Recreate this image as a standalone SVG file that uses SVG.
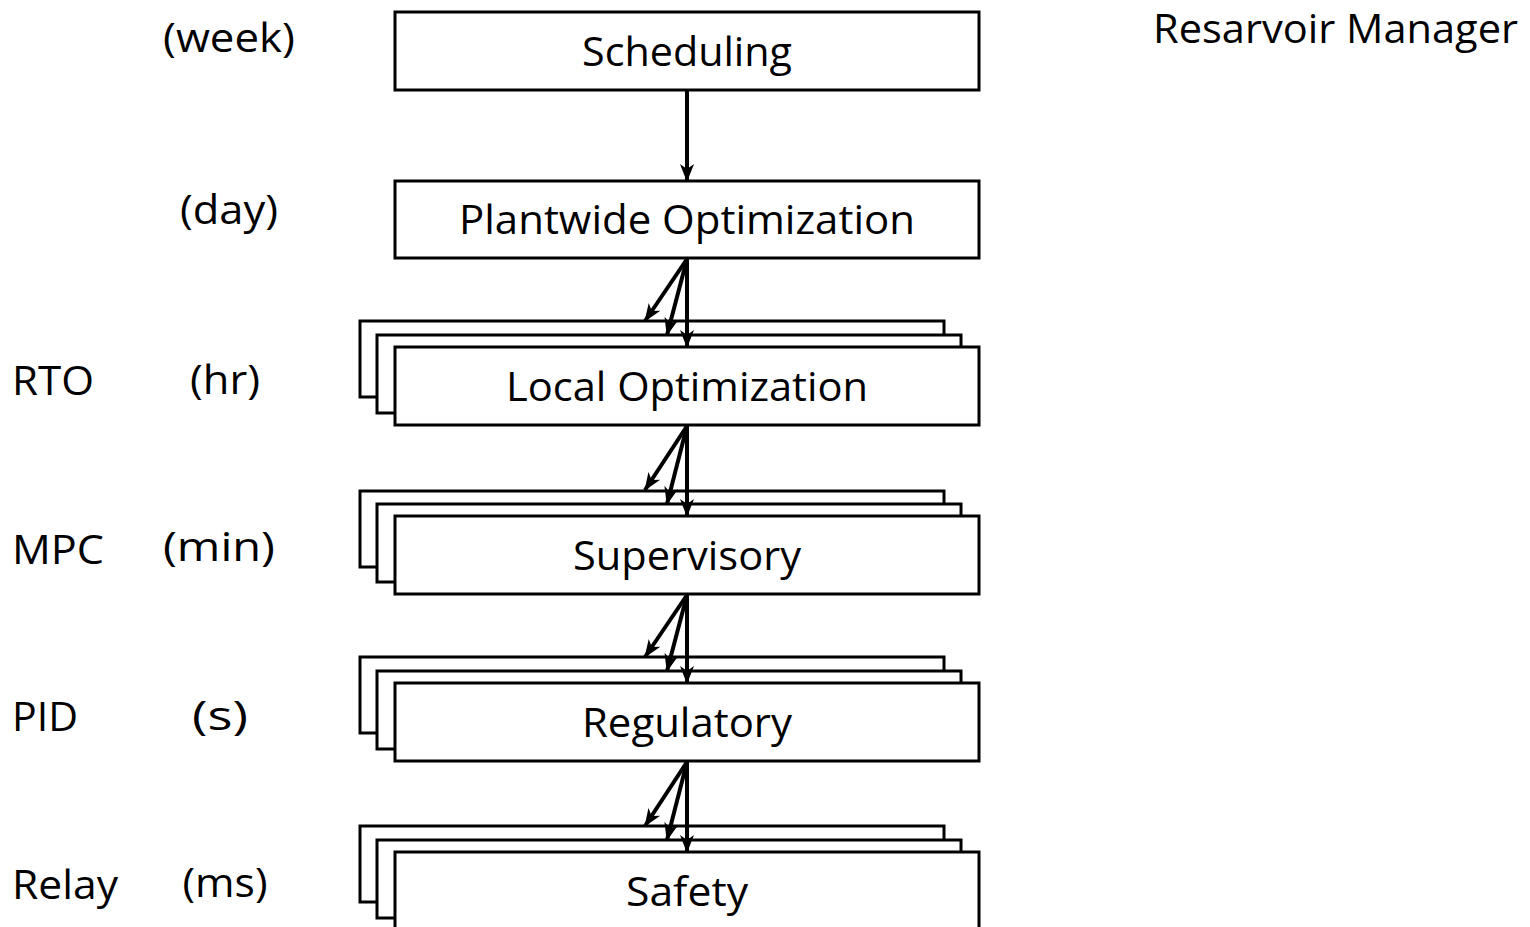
<svg xmlns="http://www.w3.org/2000/svg" width="1530" height="927" viewBox="0 0 1530 927">
  <defs>
    <marker id="head" markerUnits="userSpaceOnUse" markerWidth="18" markerHeight="16" viewBox="0 0 18 16" refX="17" refY="8" orient="auto">
      <path d="M0,1 L18,8 L0,15 L5,8 Z" fill="#000"/>
    </marker>
  </defs>
  <style>
    .box { fill: #fff; stroke: #000; stroke-width: 3; }
    .lbl { font-family: "Open Sans", "Liberation Sans", sans-serif; font-size: 41px; fill: #000; }
    .mid { text-anchor: middle; }
    .conn line { stroke: #000; stroke-width: 4; marker-end: url(#head); }
  </style>
  <rect width="1530" height="927" fill="#fff"/>

  <!-- side labels: controller type and time scale -->
  <g id="side-labels">
    <text class="lbl mid" x="229" y="52" textLength="132" lengthAdjust="spacingAndGlyphs">(week)</text>
    <text class="lbl mid" x="229" y="224" textLength="98" lengthAdjust="spacingAndGlyphs">(day)</text>
    <text class="lbl" x="12" y="395" textLength="82" lengthAdjust="spacingAndGlyphs">RTO</text>
    <text class="lbl mid" x="225" y="394" textLength="70" lengthAdjust="spacingAndGlyphs">(hr)</text>
    <text class="lbl" x="12" y="564" textLength="92" lengthAdjust="spacingAndGlyphs">MPC</text>
    <text class="lbl mid" x="219" y="561" textLength="112" lengthAdjust="spacingAndGlyphs">(min)</text>
    <text class="lbl" x="12" y="731" textLength="66" lengthAdjust="spacingAndGlyphs">PID</text>
    <text class="lbl mid" x="220" y="730" textLength="56" lengthAdjust="spacingAndGlyphs">(s)</text>
    <text class="lbl" x="12" y="899" textLength="106" lengthAdjust="spacingAndGlyphs">Relay</text>
    <text class="lbl mid" x="225" y="897" textLength="85" lengthAdjust="spacingAndGlyphs">(ms)</text>
    <text class="lbl" x="1153" y="43" textLength="365" lengthAdjust="spacingAndGlyphs">Resarvoir Manager</text>
  </g>

  <g id="scheduling">
    <rect class="box" x="395" y="12" width="584" height="78"/>
    <text class="lbl mid" x="687" y="66" textLength="210" lengthAdjust="spacingAndGlyphs">Scheduling</text>
  </g>

  <g id="plantwide">
    <rect class="box" x="395" y="181" width="584" height="77"/>
    <text class="lbl mid" x="687" y="234" textLength="456" lengthAdjust="spacingAndGlyphs">Plantwide Optimization</text>
  </g>

  <g id="local-optimization">
    <rect class="box" x="360" y="321" width="584" height="76"/>
    <rect class="box" x="377" y="335" width="584" height="78"/>
    <rect class="box" x="395" y="347" width="584" height="78"/>
    <text class="lbl mid" x="687" y="401" textLength="362" lengthAdjust="spacingAndGlyphs">Local Optimization</text>
  </g>

  <g id="supervisory">
    <rect class="box" x="360" y="491" width="584" height="76"/>
    <rect class="box" x="377" y="504" width="584" height="78"/>
    <rect class="box" x="395" y="516" width="584" height="78"/>
    <text class="lbl mid" x="687" y="570" textLength="228" lengthAdjust="spacingAndGlyphs">Supervisory</text>
  </g>

  <g id="regulatory">
    <rect class="box" x="360" y="657" width="584" height="76"/>
    <rect class="box" x="377" y="671" width="584" height="78"/>
    <rect class="box" x="395" y="683" width="584" height="78"/>
    <text class="lbl mid" x="687" y="737" textLength="210" lengthAdjust="spacingAndGlyphs">Regulatory</text>
  </g>

  <g id="safety">
    <rect class="box" x="360" y="826" width="584" height="76"/>
    <rect class="box" x="377" y="840" width="584" height="78"/>
    <rect class="box" x="395" y="852" width="584" height="78"/>
    <text class="lbl mid" x="687" y="906" textLength="122" lengthAdjust="spacingAndGlyphs">Safety</text>
  </g>

  <g id="connectors" class="conn">
    <line x1="687" y1="91" x2="687" y2="181"/>

    <line x1="687" y1="259" x2="645" y2="321"/>
    <line x1="687" y1="259" x2="667" y2="335"/>
    <line x1="687" y1="259" x2="687" y2="347"/>

    <line x1="687" y1="426" x2="645" y2="490"/>
    <line x1="687" y1="426" x2="667" y2="504"/>
    <line x1="687" y1="426" x2="687" y2="516"/>

    <line x1="687" y1="595" x2="645" y2="657"/>
    <line x1="687" y1="595" x2="667" y2="671"/>
    <line x1="687" y1="595" x2="687" y2="683"/>

    <line x1="687" y1="762" x2="645" y2="826"/>
    <line x1="687" y1="762" x2="667" y2="840"/>
    <line x1="687" y1="762" x2="687" y2="852"/>
  </g>
</svg>
